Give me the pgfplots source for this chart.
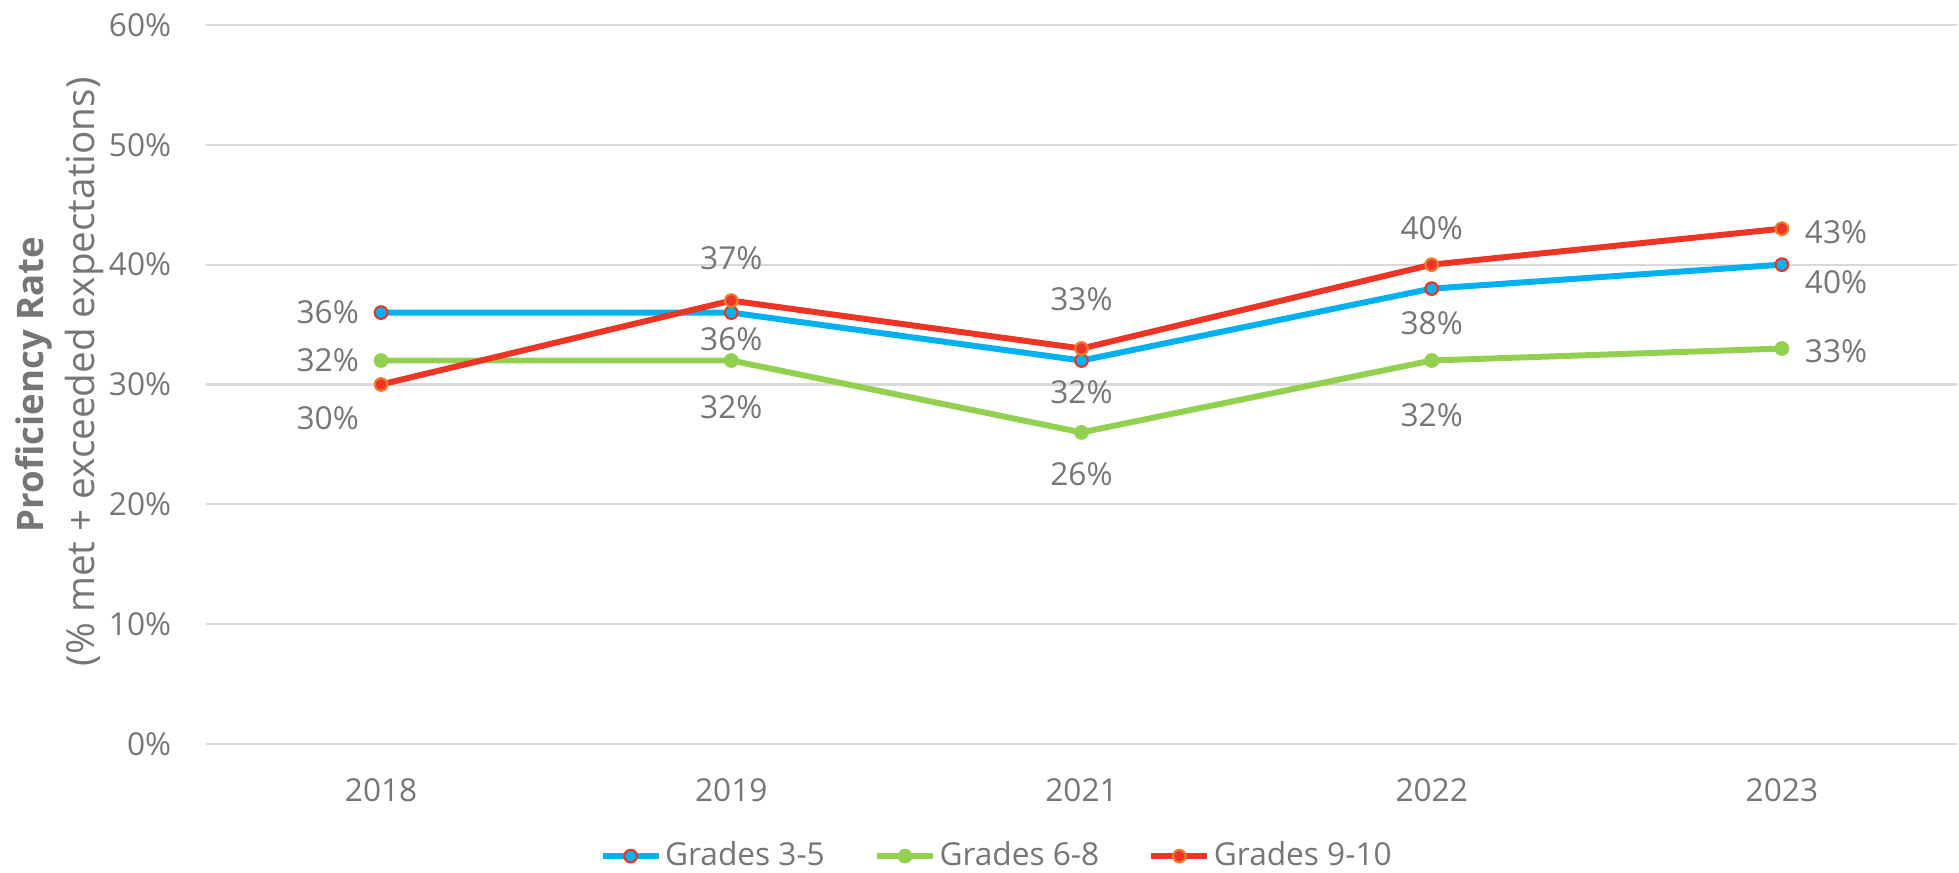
\documentclass[border=0pt]{standalone}
\usepackage{pgfplots}
\pgfplotsset{compat=1.18}
\usepackage{pgfplotstable}
\usepackage{fontspec}
\setmainfont{Open Sans}
\definecolor{txt}{HTML}{767676}
\definecolor{gridc}{HTML}{D9D9D9}
\definecolor{cblue}{HTML}{00B0F0}
\definecolor{cgreen}{HTML}{92D050}
\definecolor{cred}{HTML}{EE3424}
\definecolor{corange}{HTML}{ED7D31}

\pgfplotstableread{
x y lx ly
0 36 -15.2 0
1 36 0 -7.7
2 32 0 -9.1
3 38 0 -9.7
4 40 15.4 -5.1
}\tblblue
\pgfplotstableread{
x y lx ly
0 32 -15.2 0
1 32 0 -13.4
2 26 0 -11.9
3 32 0 -15.6
4 33 15.4 -0.9
}\tblgreen
\pgfplotstableread{
x y lx ly
0 30 -15.2 -9.7
1 37 0 12.2
2 33 0 13.9
3 40 0 10.5
4 43 15.4 -0.9
}\tblred

\begin{document}
\begin{tikzpicture}
\begin{axis}[
  scale only axis,
  width=17.51cm, height=7.19cm,
  xmin=-0.5, xmax=4.5,
  ymin=0, ymax=60,
  xtick={0,1,2,3,4},
  xticklabels={2018,2019,2021,2022,2023},
  ytick={0,10,...,60},
  yticklabel={\pgfmathprintnumber{\tick}\%},
  /pgf/number format/assume math mode=true,
  font=\fontsize{9}{11}\selectfont,
  ticklabel style={text=txt, font=\fontsize{9}{11}\selectfont},
  xticklabel style={anchor=center, yshift=-13.1pt},
  yticklabel style={anchor=east, inner sep=0pt, xshift=-9.7pt},
  axis line style={draw=none},
  tick style={draw=none},
  ymajorgrids, xmajorgrids=false,
  major grid style={gridc, line width=0.6pt},
  ylabel={{\fontsize{10.4}{14.5}\selectfont\textbf{Proficiency Rate}}\\\hspace*{7.2pt}(\% met + exceeded expectations)},
  ylabel style={at={(axis description cs:-0.0834,0.5)}, anchor=center, align=center, text=txt, font=\fontsize{11}{14.5}\selectfont},
  legend style={at={(axis description cs:0.452,-0.156)}, anchor=center, draw=none, fill=none,
    legend columns=3, font=\fontsize{9}{11}\selectfont, text=txt,
    /tikz/every even column/.append style={column sep=13pt},
    nodes={inner sep=1pt}},
  legend image code/.code={\draw[mark repeat=2,mark phase=2] plot coordinates {(0cm,0cm)(0.28cm,0cm)(0.56cm,0cm)};},
  nodes near coords={\pgfmathprintnumber{\pgfplotspointmeta}\%},
  point meta=y,
  visualization depends on={\thisrow{lx} \as \lx},
  visualization depends on={\thisrow{ly} \as \ly},
  every node near coord/.append style={anchor=center, xshift=\lx pt, yshift=\ly pt, text=txt, font=\fontsize{9}{11}\selectfont},
  every axis plot/.append style={line width=1.7pt, mark size=1.8pt},
  clip=false,
]
\addplot[cblue, mark=*, mark options={fill=cblue, draw=cred, line width=0.6pt}] table[x=x,y=y] {\tblblue};
\addlegendentry{Grades 3-5}
\addplot[cgreen, mark=*, mark options={fill=cgreen, draw=cgreen, line width=0.6pt}] table[x=x,y=y] {\tblgreen};
\addlegendentry{Grades 6-8}
\addplot[cred, mark=*, mark options={fill=cred, draw=corange, line width=0.6pt}] table[x=x,y=y] {\tblred};
\addlegendentry{Grades 9-10}
\coordinate (sw) at (rel axis cs:0,0);
\coordinate (ne) at (rel axis cs:1,1);
\end{axis}
\pgfresetboundingbox
\path ([xshift=-2.06cm,yshift=-1.29cm]sw) rectangle ([xshift=0.02cm,yshift=0.25cm]ne);
\end{tikzpicture}
\end{document}
